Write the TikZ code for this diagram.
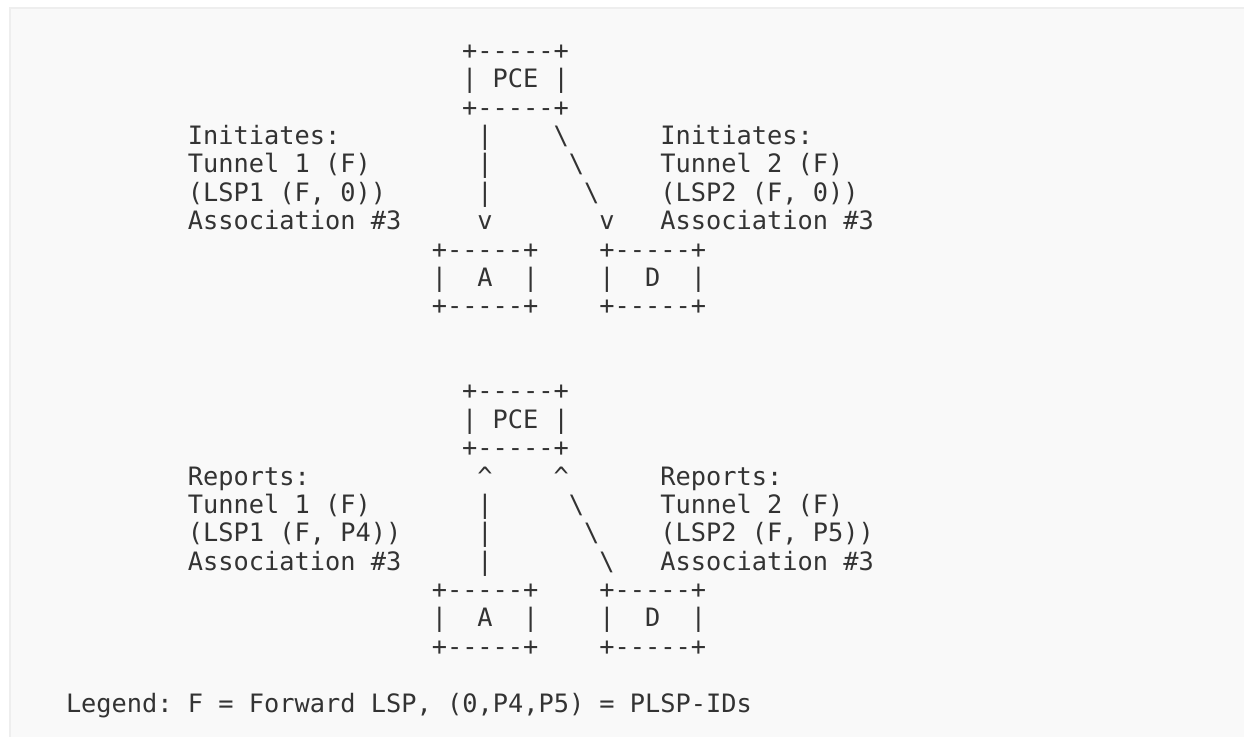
\documentclass[tikz,border=0pt]{standalone}
\usepackage{fontspec}
\setmonofont{DejaVu Sans Mono}
\definecolor{inkc}{HTML}{333333}
\definecolor{bgc}{HTML}{F9F9F9}
\definecolor{bordc}{HTML}{EEEEEE}
\newcommand\putcell[4]{\node[txt] (#1) at ({66+15.24*(#2)},{59.5+28.37*(#3)}) {#4};}
\newcommand\bsl{\textbackslash}
\begin{document}
\begin{tikzpicture}[x=0.75pt,y=-0.75pt,
  txt/.style={anchor=base west, inner sep=0pt, outer sep=0pt,
    font=\ttfamily\fontsize{18.99}{22}\selectfont\frenchspacing, text=inkc}]
\useasboundingbox (0,0) rectangle (1244,737);
\fill[white] (0,0) rectangle (1244,737);
\fill[bgc] (9,7) rectangle (1260,750);
\draw[bordc, line width=1.5pt] (10,750) -- (10,8) -- (1260,8);

% ---------- upper diagram: PCE initiates ----------
\putcell{pceAtop}{26}{0}{+-----+}
\putcell{pceAmid}{26}{1}{| PCE |}
\putcell{pceAbot}{26}{2}{+-----+}

\putcell{lInitA}{8}{3}{Initiates:}
\putcell{lInitB}{8}{4}{Tunnel 1 (F)}
\putcell{lInitC}{8}{5}{(LSP1 (F, 0))}
\putcell{lInitD}{8}{6}{Association \#3}

\putcell{rInitA}{39}{3}{Initiates:}
\putcell{rInitB}{39}{4}{Tunnel 2 (F)}
\putcell{rInitC}{39}{5}{(LSP2 (F, 0))}
\putcell{rInitD}{39}{6}{Association \#3}

\putcell{vA1}{27}{3}{|}
\putcell{vA2}{27}{4}{|}
\putcell{vA3}{27}{5}{|}
\putcell{vA4}{27}{6}{v}
\putcell{dA1}{32}{3}{\bsl}
\putcell{dA2}{33}{4}{\bsl}
\putcell{dA3}{34}{5}{\bsl}
\putcell{dA4}{35}{6}{v}

\putcell{aAtop}{24}{7}{+-----+}
\putcell{aAl}{24}{8}{|}
\putcell{aAn}{27}{8}{A}
\putcell{aAr}{30}{8}{|}
\putcell{aAbot}{24}{9}{+-----+}
\putcell{dAtop}{35}{7}{+-----+}
\putcell{dAl}{35}{8}{|}
\putcell{dAn}{38}{8}{D}
\putcell{dAr}{41}{8}{|}
\putcell{dAbot}{35}{9}{+-----+}

% ---------- lower diagram: PCCs report ----------
\putcell{pceBtop}{26}{12}{+-----+}
\putcell{pceBmid}{26}{13}{| PCE |}
\putcell{pceBbot}{26}{14}{+-----+}

\putcell{lRepA}{8}{15}{Reports:}
\putcell{lRepB}{8}{16}{Tunnel 1 (F)}
\putcell{lRepC}{8}{17}{(LSP1 (F, P4))}
\putcell{lRepD}{8}{18}{Association \#3}

\putcell{rRepA}{39}{15}{Reports:}
\putcell{rRepB}{39}{16}{Tunnel 2 (F)}
\putcell{rRepC}{39}{17}{(LSP2 (F, P5))}
\putcell{rRepD}{39}{18}{Association \#3}

\putcell{vB1}{27}{15}{\textasciicircum}
\putcell{vB2}{27}{16}{|}
\putcell{vB3}{27}{17}{|}
\putcell{vB4}{27}{18}{|}
\putcell{dB1}{32}{15}{\textasciicircum}
\putcell{dB2}{33}{16}{\bsl}
\putcell{dB3}{34}{17}{\bsl}
\putcell{dB4}{35}{18}{\bsl}

\putcell{aBtop}{24}{19}{+-----+}
\putcell{aBl}{24}{20}{|}
\putcell{aBn}{27}{20}{A}
\putcell{aBr}{30}{20}{|}
\putcell{aBbot}{24}{21}{+-----+}
\putcell{dBtop}{35}{19}{+-----+}
\putcell{dBl}{35}{20}{|}
\putcell{dBn}{38}{20}{D}
\putcell{dBr}{41}{20}{|}
\putcell{dBbot}{35}{21}{+-----+}

% ---------- legend ----------
\putcell{legend}{0}{23}{Legend: F = Forward LSP, (0,P4,P5) = PLSP-IDs}
\end{tikzpicture}
\end{document}
